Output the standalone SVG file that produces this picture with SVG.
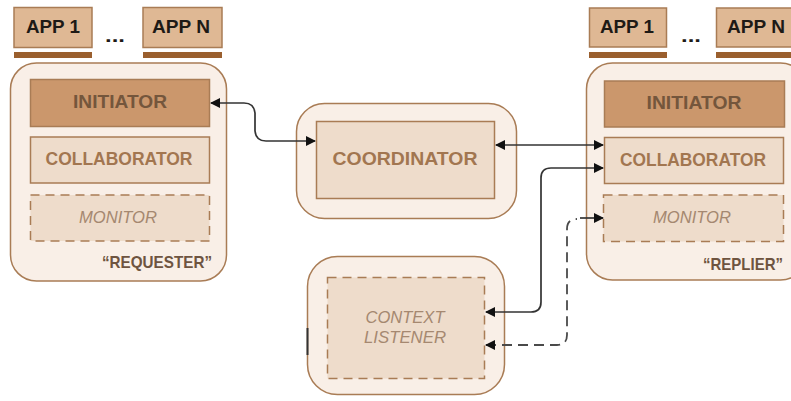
<svg xmlns="http://www.w3.org/2000/svg" width="791" height="401" viewBox="0 0 791 401">
<style>
.outer{fill:#f9efe7;stroke:#a97c55;stroke-width:1.5}
.app{fill:#dfb894;stroke:#a97c55;stroke-width:1.5}
.bar{fill:#9a5f2e}
.init{fill:#cb976c;stroke:#a97c55;stroke-width:1.5}
.collab{fill:#eedccb;stroke:#a97c55;stroke-width:1.5}
.mon{fill:#eedccb;stroke:#a97c55;stroke-width:1.5;stroke-dasharray:9 6}
.t{font-family:"Liberation Sans",Arial,sans-serif;text-anchor:middle}
.tb{font-weight:bold}
.tapp{fill:#1e1a16;font-size:18.5px}
.tinit{fill:#74563c;font-size:17.5px}
.tcol{fill:#a27650;font-size:17.5px}
.tmon{fill:#a58870;font-size:16px;font-style:italic}
.tlab{fill:#6e5440;font-size:17px;text-anchor:end}
.conn{fill:none;stroke:#333;stroke-width:1.7}
.dash{stroke-dasharray:10 6;stroke:#4a4a4a;stroke-width:1.8}
</style>
<defs>
<marker id="ah" viewBox="0 0 10 10" refX="9" refY="5" markerWidth="10" markerHeight="10" markerUnits="userSpaceOnUse" orient="auto-start-reverse">
<path d="M0,0 L10,5 L0,10 z" fill="#111"/>
</marker>
</defs>

<g id="requester">
<g id="req-app1">
<rect class="app" x="14" y="7.5" width="78" height="40"/>
<text class="t tb tapp" x="53" y="33" textLength="54" lengthAdjust="spacingAndGlyphs">APP 1</text>
<rect class="bar" x="14" y="52" width="78" height="6"/>
</g>
<text class="t tb tapp" x="115" y="42" textLength="20" lengthAdjust="spacingAndGlyphs">...</text>
<g id="req-appn">
<rect class="app" x="143" y="7.5" width="79" height="40"/>
<text class="t tb tapp" x="181" y="33" textLength="58" lengthAdjust="spacingAndGlyphs">APP N</text>
<rect class="bar" x="143" y="52" width="79" height="6"/>
</g>
<rect class="outer" x="10.5" y="63" width="216" height="218" rx="26"/>
<g id="req-initiator">
<rect class="init" x="30.5" y="79.5" width="179" height="47"/>
<text class="t tb tinit" x="120" y="108" textLength="94" lengthAdjust="spacingAndGlyphs">INITIATOR</text>
</g>
<g id="req-collaborator">
<rect class="collab" x="30.5" y="137" width="179" height="46"/>
<text class="t tb tcol" x="119" y="165" textLength="147" lengthAdjust="spacingAndGlyphs">COLLABORATOR</text>
</g>
<g id="req-monitor">
<rect class="mon" x="30.5" y="195" width="179" height="46"/>
<text class="t tmon" x="118" y="223" textLength="78" lengthAdjust="spacingAndGlyphs">MONITOR</text>
</g>
<text class="t tb tlab" x="212" y="268" textLength="110" lengthAdjust="spacingAndGlyphs">“REQUESTER”</text>
</g>

<g id="coordinator">
<rect class="outer" x="296.5" y="103.5" width="220" height="115" rx="28"/>
<rect class="collab" x="316.5" y="121.5" width="178" height="77"/>
<text class="t tb tcol" x="405" y="165" font-size="18.5" textLength="145" lengthAdjust="spacingAndGlyphs">COORDINATOR</text>
</g>

<g id="replier">
<g id="rep-app1">
<rect class="app" x="589.5" y="8" width="77" height="39"/>
<text class="t tb tapp" x="627" y="33" textLength="54" lengthAdjust="spacingAndGlyphs">APP 1</text>
<rect class="bar" x="589" y="52" width="78" height="6"/>
</g>
<text class="t tb tapp" x="691" y="42" textLength="20" lengthAdjust="spacingAndGlyphs">...</text>
<g id="rep-appn">
<rect class="app" x="716.5" y="8" width="78" height="39"/>
<text class="t tb tapp" x="756" y="33" textLength="58" lengthAdjust="spacingAndGlyphs">APP N</text>
<rect class="bar" x="716" y="52" width="80" height="6"/>
</g>
<rect class="outer" x="586.5" y="63" width="220" height="217" rx="26"/>
<g id="rep-initiator">
<rect class="init" x="604.5" y="81" width="180" height="46"/>
<text class="t tb tinit" x="694" y="109" textLength="95" lengthAdjust="spacingAndGlyphs">INITIATOR</text>
</g>
<g id="rep-collaborator">
<rect class="collab" x="604.5" y="137.5" width="179" height="46"/>
<text class="t tb tcol" x="693" y="166" textLength="146" lengthAdjust="spacingAndGlyphs">COLLABORATOR</text>
</g>
<g id="rep-monitor">
<rect class="mon" x="603.5" y="195" width="180" height="46.5"/>
<text class="t tmon" x="692" y="223" textLength="78" lengthAdjust="spacingAndGlyphs">MONITOR</text>
</g>
<text class="t tb tlab" x="783" y="270" textLength="80" lengthAdjust="spacingAndGlyphs">“REPLIER”</text>
</g>

<g id="context-listener">
<rect class="outer" x="307.5" y="256.5" width="197" height="138" rx="30"/>
<rect class="mon" x="327.5" y="277.5" width="157" height="101"/>
<text class="t tmon" x="405" y="323" textLength="79" lengthAdjust="spacingAndGlyphs">CONTEXT</text>
<text class="t tmon" x="405" y="343" textLength="82" lengthAdjust="spacingAndGlyphs">LISTENER</text>
<line x1="307.5" y1="328" x2="307.5" y2="355" stroke="#333" stroke-width="2"/>
</g>

<g id="connectors">
<path class="conn" d="M211 103 H244 Q254 103 255 113 V131 Q256 141 266 141 H315" marker-start="url(#ah)" marker-end="url(#ah)"/>
<path class="conn" d="M496 145 H603" marker-start="url(#ah)" marker-end="url(#ah)"/>
<path class="conn" d="M486 312 H531 Q541 312 541 302 V178 Q541 168 551 168 H603" marker-start="url(#ah)" marker-end="url(#ah)"/>
<path class="conn dash" d="M486 345 H557 Q567 345 567 335 V229 Q567 219 577 219" marker-start="url(#ah)"/>
<path class="conn" d="M580 218 H603" marker-end="url(#ah)"/>
</g>
</svg>
